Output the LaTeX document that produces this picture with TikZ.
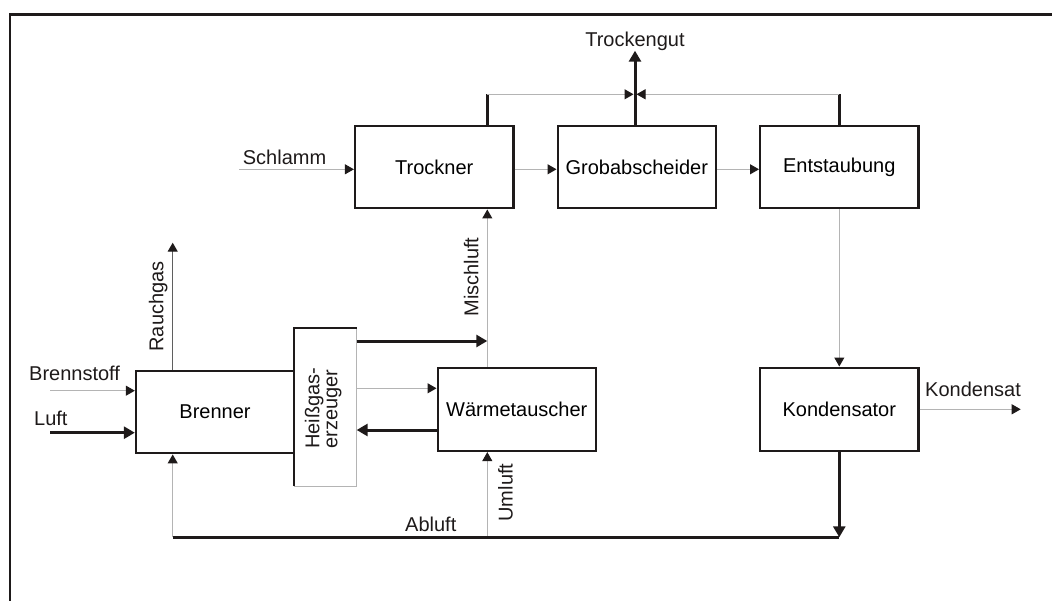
\documentclass[tikz,border=0pt]{standalone}
\usepackage{fontspec}
\setmainfont{Liberation Sans}
\usetikzlibrary{arrows.meta}
\definecolor{lgrey}{RGB}{180,180,180}
\definecolor{dk}{RGB}{30,26,26}
\definecolor{mgrey}{RGB}{95,95,95}
\begin{document}
\begin{tikzpicture}[x=1bp,y=-1bp,
  font=\fontsize{20bp}{18bp}\selectfont,
  box/.style={draw=dk, line width=2.3bp, rectangle, inner sep=0pt, minimum width=158.3bp, minimum height=82.6bp},
  gline/.style={draw=lgrey, line width=1bp},
  garrow/.style={lgrey, line width=1bp, -{Triangle[length=9bp,width=10bp,color=dk]}},
  rarrow/.style={mgrey, line width=1.2bp, -{Triangle[length=9bp,width=10bp,color=dk]}},
  thickline/.style={dk, line width=3bp},
  thickarrow/.style={dk, line width=3bp, -{Triangle[length=11bp,width=12bp]}},
  lab/.style={inner sep=0pt, anchor=base west, text=dk},
]
\useasboundingbox (0,0) rectangle (1052,601);
% frame
\coordinate (fc) at (10,14.3);
\draw[dk, line width=2.5bp] (1062,14.3) -- (fc) -- (10,612);

% boxes
\node[box] (trockner) at (434.2,167) {Trockner};
\node[box] (grob) at (636.8,167) {Grobabscheider};
\node[box] (entst) at (839.3,167) {Entstaubung};
\node[box, minimum height=83.3bp] (kond) at (839.3,409.3) {Kondensator};
\node[box, minimum height=83.3bp] (wt) at (516.8,409.3) {Wärmetauscher};
\node[box, minimum width=158bp] (brenner) at (215,412) {Brenner};
\node[rectangle, inner sep=0pt, outer sep=0pt, minimum width=62.7bp, minimum height=157.7bp] (heiss) at (325.3,407.2) {};
\draw[lgrey, line width=1bp] (heiss.north east) -- (heiss.south east) -- (heiss.south west);
\draw[dk, line width=2.3bp] (heiss.south west) -- (heiss.north west) -- (heiss.north east);
\node[rotate=90, align=left, inner sep=0pt, text=dk] (heisstext) at (323.1,408) {Heißgas-\\erzeuger};

% coordinates
\coordinate (row) at (0,169.3);
\coordinate (schl) at (239,169.3);
\coordinate (jl) at (487.3,94.3);
\coordinate (jr) at (839.3,94.3);
\coordinate (jm) at (635,94.3);
\coordinate (tg) at (635,50.7);
\coordinate (mix) at (487.3,341);
\coordinate (hw) at (356.7,388.3);
\coordinate (wh) at (437.7,430);
\coordinate (bs) at (50,390.7);
\coordinate (lu) at (50,432.7);
\coordinate (rg) at (172.7,242.7);
\coordinate (ab) at (172.7,537.3);
\coordinate (ak) at (839.3,537.3);
\coordinate (um) at (487.3,537.3);
\coordinate (ks) at (1020.7,409.3);

% connectors top
\draw[garrow] (schl) -- (schl -| trockner.west);
\draw[garrow] (trockner.east |- row) -- (grob.west |- row);
\draw[garrow] (grob.east |- row) -- (entst.west |- row);
\draw[thickline] (jl |- trockner.north) -- (jl);
\draw[garrow, shorten >=1.5bp] (jl) -- (jm);
\draw[thickline] (jr |- entst.north) -- (jr);
\draw[garrow, shorten >=1.5bp] (jr) -- (jm);
\draw[thickarrow] (jm |- grob.north) -- (tg);

% middle
\draw[garrow] (mix |- wt.north) -- (mix |- trockner.south);
\draw[thickarrow] (heiss.east |- mix) -- (mix);
\draw[garrow] (hw) -- (hw -| wt.west);
\draw[thickarrow] (wt.west |- wh) -- (wh -| heiss.east);
\draw[garrow] (entst.south) -- (kond.north);
\draw[garrow] (kond.east |- ks) -- (ks);

% left
\draw[rarrow] (rg |- brenner.north) -- (rg);
\draw[garrow] (bs) -- (bs -| brenner.west);
\draw[thickarrow] (lu) -- (lu -| brenner.west);

% bottom
\draw[garrow] (um) -- (um |- wt.south);
\draw[garrow] (ab) -- (ab |- brenner.south);
\draw[thickline] (ab) -- (ak);
\draw[thickarrow] (kond.south) -- (ak);

% labels
\node[lab, anchor=base] (tgl) at (635,46.7) {Trockengut};
\node[lab] (schlamm) at (242.7,165) {Schlamm};
\node[lab] (brennstoff) at (29,380) {Brennstoff};
\node[lab] (luft) at (34,425.7) {Luft};
\node[lab] (kondensat) at (925,396) {Kondensat};
\node[lab] (abluft) at (405,531.7) {Abluft};
\node[lab, rotate=90] (rauchgas) at (163.3,351.7) {Rauchgas};
\node[lab, rotate=90] (mischluft) at (478.3,316.7) {Mischluft};
\node[lab, rotate=90] (umluft) at (512.7,521.7) {Umluft};
\end{tikzpicture}
\end{document}
